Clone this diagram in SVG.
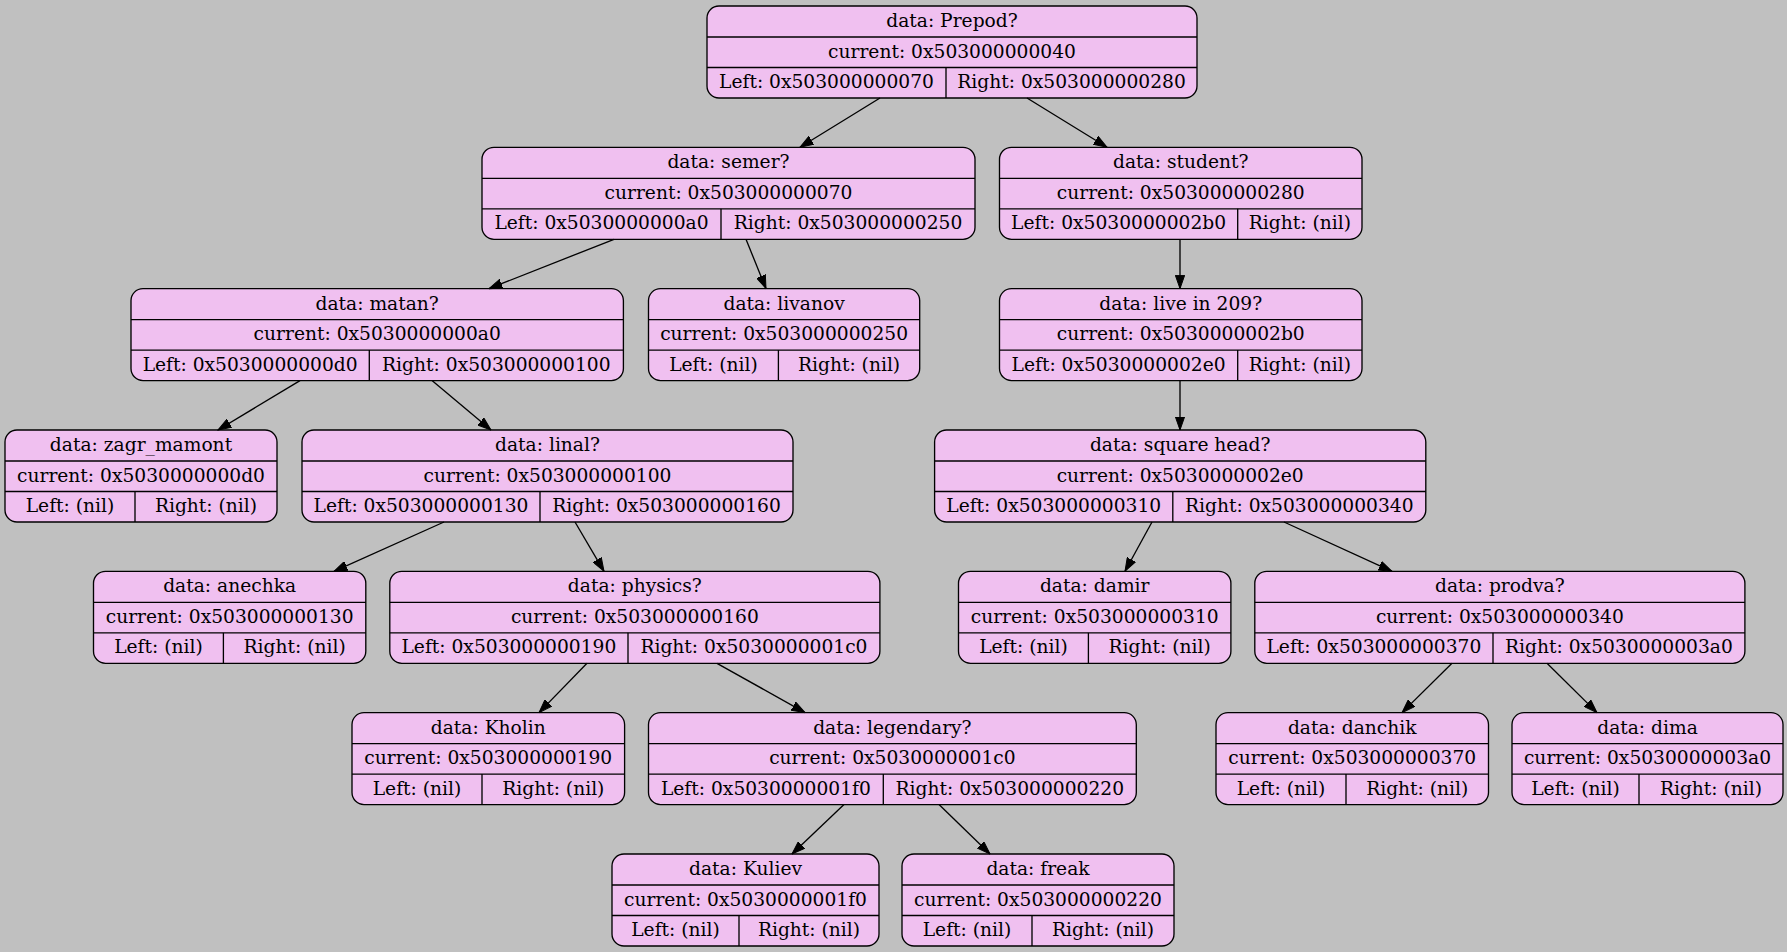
<svg xmlns="http://www.w3.org/2000/svg" width="1787" height="952" viewBox="0 0 1787 952">
<style>
.bg{fill:#c0c0c0}
.node rect{fill:#f0c0f0;stroke:#000;stroke-width:1.33}
.node line{stroke:#000;stroke-width:1.33}
.node text{font-family:"DejaVu Serif","Liberation Serif",serif;font-size:18.67px;text-anchor:middle;fill:#000}
.edges line{stroke:#000;stroke-width:1.33;marker-end:url(#arrow)}
</style>
<defs>
<marker id="arrow" viewBox="0 -5 14 10" markerWidth="14" markerHeight="10" refX="13.3" refY="0" orient="auto" markerUnits="userSpaceOnUse">
<path d="M0,-4.67 L13.3,0 L0,4.67 z" fill="#000" stroke="#000" stroke-width="1"/>
</marker>
</defs>
<rect class="bg" x="0" y="0" width="1787" height="952"/>

<g id="node-prepod" class="node">
<rect x="707" y="6" width="490" height="92" rx="12"/>
<line x1="707" y1="37" x2="1197" y2="37"/><line x1="707" y1="67.5" x2="1197" y2="67.5"/><line x1="946" y1="67.5" x2="946" y2="98"/>
<text x="952" y="27">data: Prepod?</text><text x="952" y="57.5">current: 0x503000000040</text>
<text x="826.5" y="88">Left: 0x503000000070</text><text x="1071.5" y="88">Right: 0x503000000280</text>
</g>

<g id="node-semer" class="node">
<rect x="482" y="147.3" width="493" height="92" rx="12"/>
<line x1="482" y1="178.3" x2="975" y2="178.3"/><line x1="482" y1="208.8" x2="975" y2="208.8"/><line x1="721" y1="208.8" x2="721" y2="239.3"/>
<text x="728.5" y="168.3">data: semer?</text><text x="728.5" y="198.8">current: 0x503000000070</text>
<text x="601.5" y="229.3">Left: 0x5030000000a0</text><text x="848" y="229.3">Right: 0x503000000250</text>
</g>

<g id="node-student" class="node">
<rect x="999.5" y="147.3" width="362.5" height="92" rx="12"/>
<line x1="999.5" y1="178.3" x2="1362" y2="178.3"/><line x1="999.5" y1="208.8" x2="1362" y2="208.8"/><line x1="1237.7" y1="208.8" x2="1237.7" y2="239.3"/>
<text x="1180.75" y="168.3">data: student?</text><text x="1180.75" y="198.8">current: 0x503000000280</text>
<text x="1118.6" y="229.3">Left: 0x5030000002b0</text><text x="1299.85" y="229.3">Right: (nil)</text>
</g>

<g id="node-matan" class="node">
<rect x="131" y="288.6" width="492.4" height="92" rx="12"/>
<line x1="131" y1="319.6" x2="623.4" y2="319.6"/><line x1="131" y1="350.1" x2="623.4" y2="350.1"/><line x1="369.3" y1="350.1" x2="369.3" y2="380.6"/>
<text x="377.2" y="309.6">data: matan?</text><text x="377.2" y="340.1">current: 0x5030000000a0</text>
<text x="250.15" y="370.6">Left: 0x5030000000d0</text><text x="496.35" y="370.6">Right: 0x503000000100</text>
</g>

<g id="node-livanov" class="node">
<rect x="648.5" y="288.6" width="271.2" height="92" rx="12"/>
<line x1="648.5" y1="319.6" x2="919.7" y2="319.6"/><line x1="648.5" y1="350.1" x2="919.7" y2="350.1"/><line x1="778.4" y1="350.1" x2="778.4" y2="380.6"/>
<text x="784.1" y="309.6">data: livanov</text><text x="784.1" y="340.1">current: 0x503000000250</text>
<text x="713.45" y="370.6">Left: (nil)</text><text x="849.05" y="370.6">Right: (nil)</text>
</g>

<g id="node-live209" class="node">
<rect x="999.5" y="288.6" width="362.5" height="92" rx="12"/>
<line x1="999.5" y1="319.6" x2="1362" y2="319.6"/><line x1="999.5" y1="350.1" x2="1362" y2="350.1"/><line x1="1237.7" y1="350.1" x2="1237.7" y2="380.6"/>
<text x="1180.75" y="309.6">data: live in 209?</text><text x="1180.75" y="340.1">current: 0x5030000002b0</text>
<text x="1118.6" y="370.6">Left: 0x5030000002e0</text><text x="1299.85" y="370.6">Right: (nil)</text>
</g>

<g id="node-zagr" class="node">
<rect x="5" y="430" width="272" height="92" rx="12"/>
<line x1="5" y1="461" x2="277" y2="461"/><line x1="5" y1="491.5" x2="277" y2="491.5"/><line x1="135" y1="491.5" x2="135" y2="522"/>
<text x="141" y="451">data: zagr_mamont</text><text x="141" y="481.5">current: 0x5030000000d0</text>
<text x="70" y="512">Left: (nil)</text><text x="206" y="512">Right: (nil)</text>
</g>

<g id="node-linal" class="node">
<rect x="302" y="430" width="491" height="92" rx="12"/>
<line x1="302" y1="461" x2="793" y2="461"/><line x1="302" y1="491.5" x2="793" y2="491.5"/><line x1="540" y1="491.5" x2="540" y2="522"/>
<text x="547.5" y="451">data: linal?</text><text x="547.5" y="481.5">current: 0x503000000100</text>
<text x="421" y="512">Left: 0x503000000130</text><text x="666.5" y="512">Right: 0x503000000160</text>
</g>

<g id="node-square" class="node">
<rect x="934.6" y="430" width="491.2" height="92" rx="12"/>
<line x1="934.6" y1="461" x2="1425.8" y2="461"/><line x1="934.6" y1="491.5" x2="1425.8" y2="491.5"/><line x1="1172.8" y1="491.5" x2="1172.8" y2="522"/>
<text x="1180.2" y="451">data: square head?</text><text x="1180.2" y="481.5">current: 0x5030000002e0</text>
<text x="1053.7" y="512">Left: 0x503000000310</text><text x="1299.3" y="512">Right: 0x503000000340</text>
</g>

<g id="node-anechka" class="node">
<rect x="93.5" y="571.3" width="272.3" height="92" rx="12"/>
<line x1="93.5" y1="602.3" x2="365.8" y2="602.3"/><line x1="93.5" y1="632.8" x2="365.8" y2="632.8"/><line x1="223.4" y1="632.8" x2="223.4" y2="663.3"/>
<text x="229.65" y="592.3">data: anechka</text><text x="229.65" y="622.8">current: 0x503000000130</text>
<text x="158.45" y="653.3">Left: (nil)</text><text x="294.6" y="653.3">Right: (nil)</text>
</g>

<g id="node-physics" class="node">
<rect x="389.8" y="571.3" width="490.1" height="92" rx="12"/>
<line x1="389.8" y1="602.3" x2="879.9" y2="602.3"/><line x1="389.8" y1="632.8" x2="879.9" y2="632.8"/><line x1="628" y1="632.8" x2="628" y2="663.3"/>
<text x="634.85" y="592.3">data: physics?</text><text x="634.85" y="622.8">current: 0x503000000160</text>
<text x="508.9" y="653.3">Left: 0x503000000190</text><text x="753.95" y="653.3">Right: 0x5030000001c0</text>
</g>

<g id="node-damir" class="node">
<rect x="958.5" y="571.3" width="272.4" height="92" rx="12"/>
<line x1="958.5" y1="602.3" x2="1230.9" y2="602.3"/><line x1="958.5" y1="632.8" x2="1230.9" y2="632.8"/><line x1="1088.4" y1="632.8" x2="1088.4" y2="663.3"/>
<text x="1094.7" y="592.3">data: damir</text><text x="1094.7" y="622.8">current: 0x503000000310</text>
<text x="1023.45" y="653.3">Left: (nil)</text><text x="1159.65" y="653.3">Right: (nil)</text>
</g>

<g id="node-prodva" class="node">
<rect x="1254.8" y="571.3" width="490.1" height="92" rx="12"/>
<line x1="1254.8" y1="602.3" x2="1744.9" y2="602.3"/><line x1="1254.8" y1="632.8" x2="1744.9" y2="632.8"/><line x1="1493" y1="632.8" x2="1493" y2="663.3"/>
<text x="1499.85" y="592.3">data: prodva?</text><text x="1499.85" y="622.8">current: 0x503000000340</text>
<text x="1373.9" y="653.3">Left: 0x503000000370</text><text x="1618.95" y="653.3">Right: 0x5030000003a0</text>
</g>

<g id="node-kholin" class="node">
<rect x="352" y="712.6" width="272.6" height="92" rx="12"/>
<line x1="352" y1="743.6" x2="624.6" y2="743.6"/><line x1="352" y1="774.1" x2="624.6" y2="774.1"/><line x1="482" y1="774.1" x2="482" y2="804.6"/>
<text x="488.3" y="733.6">data: Kholin</text><text x="488.3" y="764.1">current: 0x503000000190</text>
<text x="417" y="794.6">Left: (nil)</text><text x="553.3" y="794.6">Right: (nil)</text>
</g>

<g id="node-legendary" class="node">
<rect x="648.5" y="712.6" width="487.8" height="92" rx="12"/>
<line x1="648.5" y1="743.6" x2="1136.3" y2="743.6"/><line x1="648.5" y1="774.1" x2="1136.3" y2="774.1"/><line x1="883.3" y1="774.1" x2="883.3" y2="804.6"/>
<text x="892.4" y="733.6">data: legendary?</text><text x="892.4" y="764.1">current: 0x5030000001c0</text>
<text x="765.9" y="794.6">Left: 0x5030000001f0</text><text x="1009.8" y="794.6">Right: 0x503000000220</text>
</g>

<g id="node-danchik" class="node">
<rect x="1216" y="712.6" width="272.5" height="92" rx="12"/>
<line x1="1216" y1="743.6" x2="1488.5" y2="743.6"/><line x1="1216" y1="774.1" x2="1488.5" y2="774.1"/><line x1="1346" y1="774.1" x2="1346" y2="804.6"/>
<text x="1352.25" y="733.6">data: danchik</text><text x="1352.25" y="764.1">current: 0x503000000370</text>
<text x="1281" y="794.6">Left: (nil)</text><text x="1417.25" y="794.6">Right: (nil)</text>
</g>

<g id="node-dima" class="node">
<rect x="1512" y="712.6" width="271" height="92" rx="12"/>
<line x1="1512" y1="743.6" x2="1783" y2="743.6"/><line x1="1512" y1="774.1" x2="1783" y2="774.1"/><line x1="1639" y1="774.1" x2="1639" y2="804.6"/>
<text x="1647.5" y="733.6">data: dima</text><text x="1647.5" y="764.1">current: 0x5030000003a0</text>
<text x="1575.5" y="794.6">Left: (nil)</text><text x="1711" y="794.6">Right: (nil)</text>
</g>

<g id="node-kuliev" class="node">
<rect x="612" y="854" width="267" height="92" rx="12"/>
<line x1="612" y1="885" x2="879" y2="885"/><line x1="612" y1="915.5" x2="879" y2="915.5"/><line x1="739" y1="915.5" x2="739" y2="946"/>
<text x="745.5" y="875">data: Kuliev</text><text x="745.5" y="905.5">current: 0x5030000001f0</text>
<text x="675.5" y="936">Left: (nil)</text><text x="809" y="936">Right: (nil)</text>
</g>

<g id="node-freak" class="node">
<rect x="902" y="854" width="272" height="92" rx="12"/>
<line x1="902" y1="885" x2="1174" y2="885"/><line x1="902" y1="915.5" x2="1174" y2="915.5"/><line x1="1032" y1="915.5" x2="1032" y2="946"/>
<text x="1038" y="875">data: freak</text><text x="1038" y="905.5">current: 0x503000000220</text>
<text x="967" y="936">Left: (nil)</text><text x="1103" y="936">Right: (nil)</text>
</g>

<g id="edges" class="edges">
<line x1="880" y1="98" x2="800" y2="147.3"/>
<line x1="1027" y1="98" x2="1107" y2="147.3"/>
<line x1="614" y1="239.3" x2="489" y2="288.6"/>
<line x1="746" y1="239.3" x2="766" y2="288.6"/>
<line x1="1180" y1="239.3" x2="1180" y2="288.6"/>
<line x1="300" y1="380.6" x2="218" y2="430"/>
<line x1="432" y1="380.6" x2="491" y2="430"/>
<line x1="1180" y1="380.6" x2="1180" y2="430"/>
<line x1="444" y1="522" x2="334" y2="571.3"/>
<line x1="575" y1="522" x2="604" y2="571.3"/>
<line x1="1152" y1="522" x2="1125" y2="571.3"/>
<line x1="1284" y1="522" x2="1392" y2="571.3"/>
<line x1="587" y1="663.3" x2="539" y2="712.6"/>
<line x1="717" y1="663.3" x2="805" y2="712.6"/>
<line x1="1452" y1="663.3" x2="1402" y2="712.6"/>
<line x1="1547" y1="663.3" x2="1597" y2="712.6"/>
<line x1="844" y1="804.6" x2="792" y2="854"/>
<line x1="939" y1="804.6" x2="990" y2="854"/>
</g>
</svg>
